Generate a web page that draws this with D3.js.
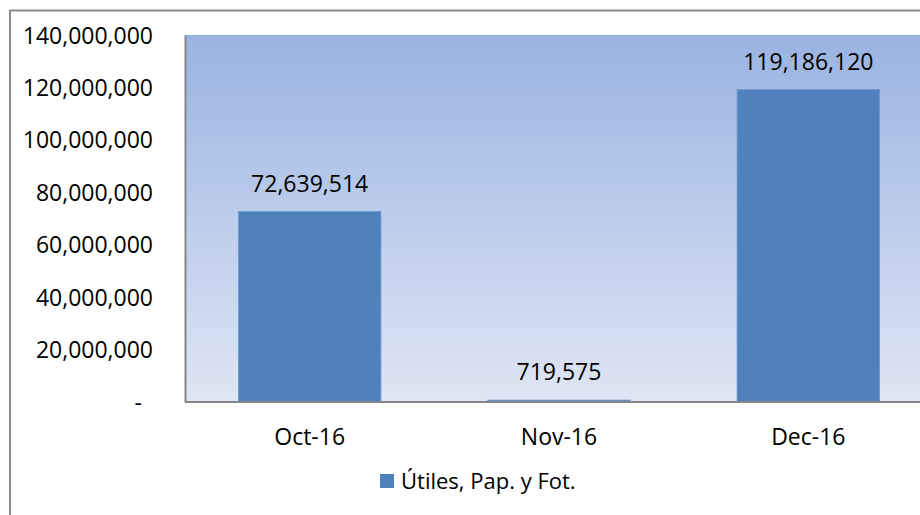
<!DOCTYPE html>
<html>
<head>
<meta charset="utf-8">
<script src="https://cdn.jsdelivr.net/npm/d3@7"></script>
<style>
  html, body { margin: 0; padding: 0; background: #fff; }
  svg { display: block; font-family: "Open Sans", sans-serif; }
</style>
</head>
<body>
<div id="chart"></div>
<script>
// 1: DATA
const months = ["Oct-16", "Nov-16", "Dec-16"];
const values = [72639514, 719575, 119186120];
const yTicks = [0, 20000000, 40000000, 60000000, 80000000, 100000000, 120000000, 140000000];
const seriesName = "Útiles, Pap. y Fot.";

// 2: GLOBAL SIZES
const W = 920, H = 515;
const plot = { left: 185, top: 35, right: 933, bottom: 402 };

const svg = d3.select("#chart")
    .append("svg")
    .attr("width", W)
    .attr("height", H);

// gradient for the plot area
const defs = svg.append("defs");
const grad = defs.append("linearGradient")
    .attr("id", "plotGrad")
    .attr("x1", 0).attr("y1", 0)
    .attr("x2", 0).attr("y2", 1);
grad.append("stop").attr("offset", "0%").attr("stop-color", "#9ab3e2");
grad.append("stop").attr("offset", "100%").attr("stop-color", "#dfe6f4");

// outer chart border (runs off right and bottom edge)
svg.append("rect")
    .attr("x", 10)
    .attr("y", 10.5)
    .attr("width", 1000)
    .attr("height", 600)
    .attr("fill", "#fff")
    .attr("stroke", "#8c8c8c")
    .attr("stroke-width", 2);

// 3: SCALES
const x = d3.scaleBand()
    .domain(months)
    .range([plot.left, plot.right])
    .paddingInner(0.75 / 1.75)
    .paddingOuter(0.75 / 3.5);

const y = d3.scaleLinear()
    .domain([0, 140000000])
    .range([plot.bottom, plot.top]);

// plot background
svg.append("rect")
    .attr("x", plot.left)
    .attr("y", plot.top)
    .attr("width", plot.right - plot.left)
    .attr("height", plot.bottom - plot.top)
    .attr("fill", "url(#plotGrad)");

// 4: BARS
svg.selectAll(".bar")
    .data(values)
    .enter().append("rect")
    .attr("class", "bar")
    .attr("x", (d, i) => x(months[i]))
    .attr("y", d => y(d))
    .attr("width", x.bandwidth())
    .attr("height", d => y(0) - y(d))
    .attr("fill", "#4f81bd")
    .attr("stroke", "#6a98cf")
    .attr("stroke-width", 0.8);

// data labels
svg.selectAll(".lbl")
    .data(values)
    .enter().append("text")
    .attr("class", "lbl")
    .attr("x", (d, i) => x(months[i]) + x.bandwidth() / 2)
    .attr("y", d => y(d) - 20)
    .attr("text-anchor", "middle")
    .style("font-size", "23px")
    .style("fill", "#000")
    .text(d => d3.format(",")(d));

// 5: AXES
const yAxis = svg.append("g")
    .attr("transform", `translate(${plot.left},0)`)
    .call(d3.axisLeft(y)
        .tickValues(yTicks)
        .tickSize(0)
        .tickPadding(32)
        .tickFormat(d => d === 0 ? "-" : d3.format(",")(d)));
yAxis.select(".domain")
    .attr("stroke", "#868686")
    .attr("stroke-width", 2);
yAxis.selectAll("text")
    .style("font-size", "23px")
    .style("font-family", "Open Sans, sans-serif")
    .attr("fill", "#000")
    .attr("dy", "0.35em")
    .attr("dx", d => d === 0 ? -11 : 0);

const xAxis = svg.append("g")
    .attr("transform", `translate(0,${plot.bottom})`)
    .call(d3.axisBottom(x).tickSize(0).tickPadding(27));
xAxis.select(".domain")
    .attr("stroke", "#868686")
    .attr("stroke-width", 2)
    .attr("d", `M${plot.left},0H${plot.right}`);
xAxis.selectAll("text")
    .style("font-size", "23px")
    .style("font-family", "Open Sans, sans-serif")
    .attr("fill", "#000");

// 6: LEGEND
const legend = svg.append("g");
legend.append("rect")
    .attr("x", 380)
    .attr("y", 474)
    .attr("width", 14)
    .attr("height", 14)
    .attr("fill", "#4f81bd");
legend.append("text")
    .attr("x", 401)
    .attr("y", 489)
    .style("font-size", "22px")
    .style("fill", "#000")
    .text(seriesName);
</script>
</body>
</html>
